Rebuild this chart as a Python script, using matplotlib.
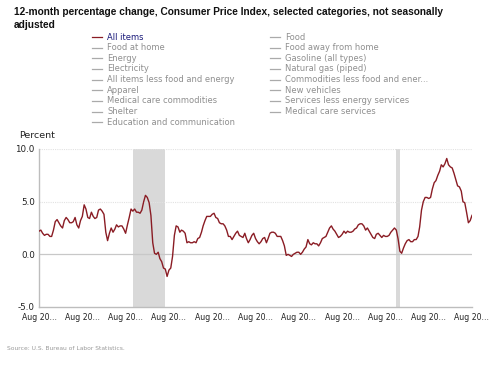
import matplotlib.pyplot as plt
import pandas as pd
from matplotlib.lines import Line2D

# CPI-U all items, 12-month percent change, Aug 2003 - Aug 2023
CPI_ALL = [
    2.2, 2.3, 2.0, 1.8, 1.9,
    1.9, 1.7, 1.7, 2.3, 3.1, 3.3, 3.0, 2.7, 2.5, 3.2, 3.5, 3.3,
    3.0, 3.0, 3.1, 3.5, 2.8, 2.5, 3.2, 3.6, 4.7, 4.3, 3.5, 3.4,
    4.0, 3.6, 3.4, 3.5, 4.2, 4.3, 4.1, 3.8, 2.1, 1.3, 2.0, 2.5,
    2.1, 2.4, 2.8, 2.6, 2.7, 2.7, 2.4, 2.0, 2.8, 3.5, 4.3, 4.1,
    4.3, 4.0, 4.0, 3.9, 4.2, 5.0, 5.6, 5.4, 4.9, 3.7, 1.1, 0.1,
    0.0, 0.2, -0.4, -0.7, -1.3, -1.4, -2.1, -1.5, -1.3, -0.2, 1.8, 2.7,
    2.6, 2.1, 2.3, 2.2, 2.0, 1.1, 1.2, 1.1, 1.1, 1.2, 1.1, 1.5,
    1.6, 2.1, 2.7, 3.2, 3.6, 3.6, 3.6, 3.8, 3.9, 3.5, 3.4, 3.0,
    2.9, 2.9, 2.7, 2.3, 1.7, 1.7, 1.4, 1.7, 2.0, 2.2, 1.8, 1.7,
    1.6, 2.0, 1.5, 1.1, 1.4, 1.8, 2.0, 1.5, 1.2, 1.0, 1.2, 1.5,
    1.6, 1.1, 1.5, 2.0, 2.1, 2.1, 2.0, 1.7, 1.7, 1.7, 1.3, 0.8,
    -0.1, 0.0, -0.1, -0.2, 0.0, 0.1, 0.2, 0.2, 0.0, 0.2, 0.5, 0.7,
    1.4, 1.0, 0.9, 1.1, 1.0, 1.0, 0.8, 1.1, 1.5, 1.6, 1.7, 2.1,
    2.5, 2.7, 2.4, 2.2, 1.9, 1.6, 1.7, 1.9, 2.2, 2.0, 2.2, 2.1,
    2.1, 2.2, 2.4, 2.5, 2.8, 2.9, 2.9, 2.7, 2.3, 2.5, 2.2, 1.9,
    1.6, 1.5, 1.9, 2.0, 1.8, 1.6, 1.8, 1.7, 1.7, 1.8, 2.1, 2.3,
    2.5, 2.3, 1.5, 0.3, 0.1, 0.6, 1.0, 1.3, 1.4, 1.2, 1.2, 1.4,
    1.4, 1.7, 2.6, 4.2, 5.0, 5.4, 5.4, 5.3, 5.4, 6.2, 6.8, 7.0,
    7.5, 7.9, 8.5, 8.3, 8.6, 9.1, 8.5, 8.3, 8.2, 7.7, 7.1, 6.5,
    6.4, 6.0, 5.0, 4.9, 4.0, 3.0, 3.2, 3.7,
]
MONTHS = pd.date_range("2003-08-01", periods=len(CPI_ALL), freq="MS")

RECESSIONS = [("2007-12-01", "2009-06-01"), ("2020-02-01", "2020-04-01")]

LEGEND_LEFT = [
    "All items", "Food at home", "Energy", "Electricity",
    "All items less food and energy", "Apparel", "Medical care commodities",
    "Shelter", "Education and communication",
]
LEGEND_RIGHT = [
    "Food", "Food away from home", "Gasoline (all types)", "Natural gas (piped)",
    "Commodities less food and ener...", "New vehicles",
    "Services less energy services", "Medical care services",
]

Y_TICKS = [-5.0, 0.0, 5.0, 10.0]
X_TICKS = pd.date_range("2003-08-01", "2023-08-01", freq="24MS")

LINE = "#8a1c24"
GRAY = "#8f8f8f"

W, H = 500, 371
plt.rcParams["font.family"] = "DejaVu Sans"
fig = plt.figure(figsize=(5.0, 3.71), dpi=100)
fig.patch.set_facecolor("white")

for i, line in enumerate(["12-month percentage change, Consumer Price Index, selected categories, not seasonally",
                          "adjusted"]):
    fig.text(14 / W, 1 - (12 + i * 12.5) / H, line, fontsize=7.25, fontweight="bold",
             family="Liberation Sans", va="center", ha="left", color="#111111")


def legend_column(names, x0, y0, step=10.65):
    for i, name in enumerate(names):
        y = 1 - (y0 + i * step) / H
        active = name == "All items"
        fig.add_artist(Line2D([x0 / W, (x0 + 10) / W], [y, y], transform=fig.transFigure,
                              color=LINE if active else "#aaaaaa", lw=0.9))
        fig.text((x0 + 15) / W, y, name, fontsize=6.0, va="center", ha="left",
                 color="#1a1a7a" if active else GRAY)


legend_column(LEGEND_LEFT, 92, 37)
legend_column(LEGEND_RIGHT, 270, 37)

ax = fig.add_axes([39 / W, 1 - 307 / H, 433 / W, 158 / H])
for a, b in RECESSIONS:
    ax.axvspan(pd.Timestamp(a), pd.Timestamp(b), color="#d9d9d9", lw=0, zorder=0)

ax.plot(MONTHS, CPI_ALL, color=LINE, lw=1.0, zorder=3)
ax.axhline(0, color="#c8c8c8", lw=0.9, zorder=1)
for y in (5.0, 10.0):
    ax.axhline(y, color="#e2e2e2", lw=0.8, ls=(0, (1, 1)), zorder=1)

ax.set_xlim(MONTHS[0], MONTHS[-1])
ax.set_ylim(-5, 10)
ax.set_yticks(Y_TICKS)
ax.set_yticklabels([f"{v:.1f}" for v in Y_TICKS])
ax.set_xticks(X_TICKS)
ax.set_xticklabels(["Aug 20..."] * len(X_TICKS))
ax.tick_params(length=0, colors="#222222")
ax.tick_params(axis="x", labelsize=5.6, pad=4)
ax.tick_params(axis="y", labelsize=6.3, pad=3)

for side in ("top", "right"):
    ax.spines[side].set_visible(False)
for side in ("left", "bottom"):
    ax.spines[side].set_color("#bdbdbd")
    ax.spines[side].set_linewidth(1.0)

fig.text(19 / W, 1 - 135 / H, "Percent", fontsize=6.8, va="center", ha="left", color="#222222")
fig.text(7 / W, 1 - 348 / H, "Source: U.S. Bureau of Labor Statistics.", fontsize=4.3, va="center",
         ha="left", color="#999999")

fig.savefig("out.png", dpi=100)
